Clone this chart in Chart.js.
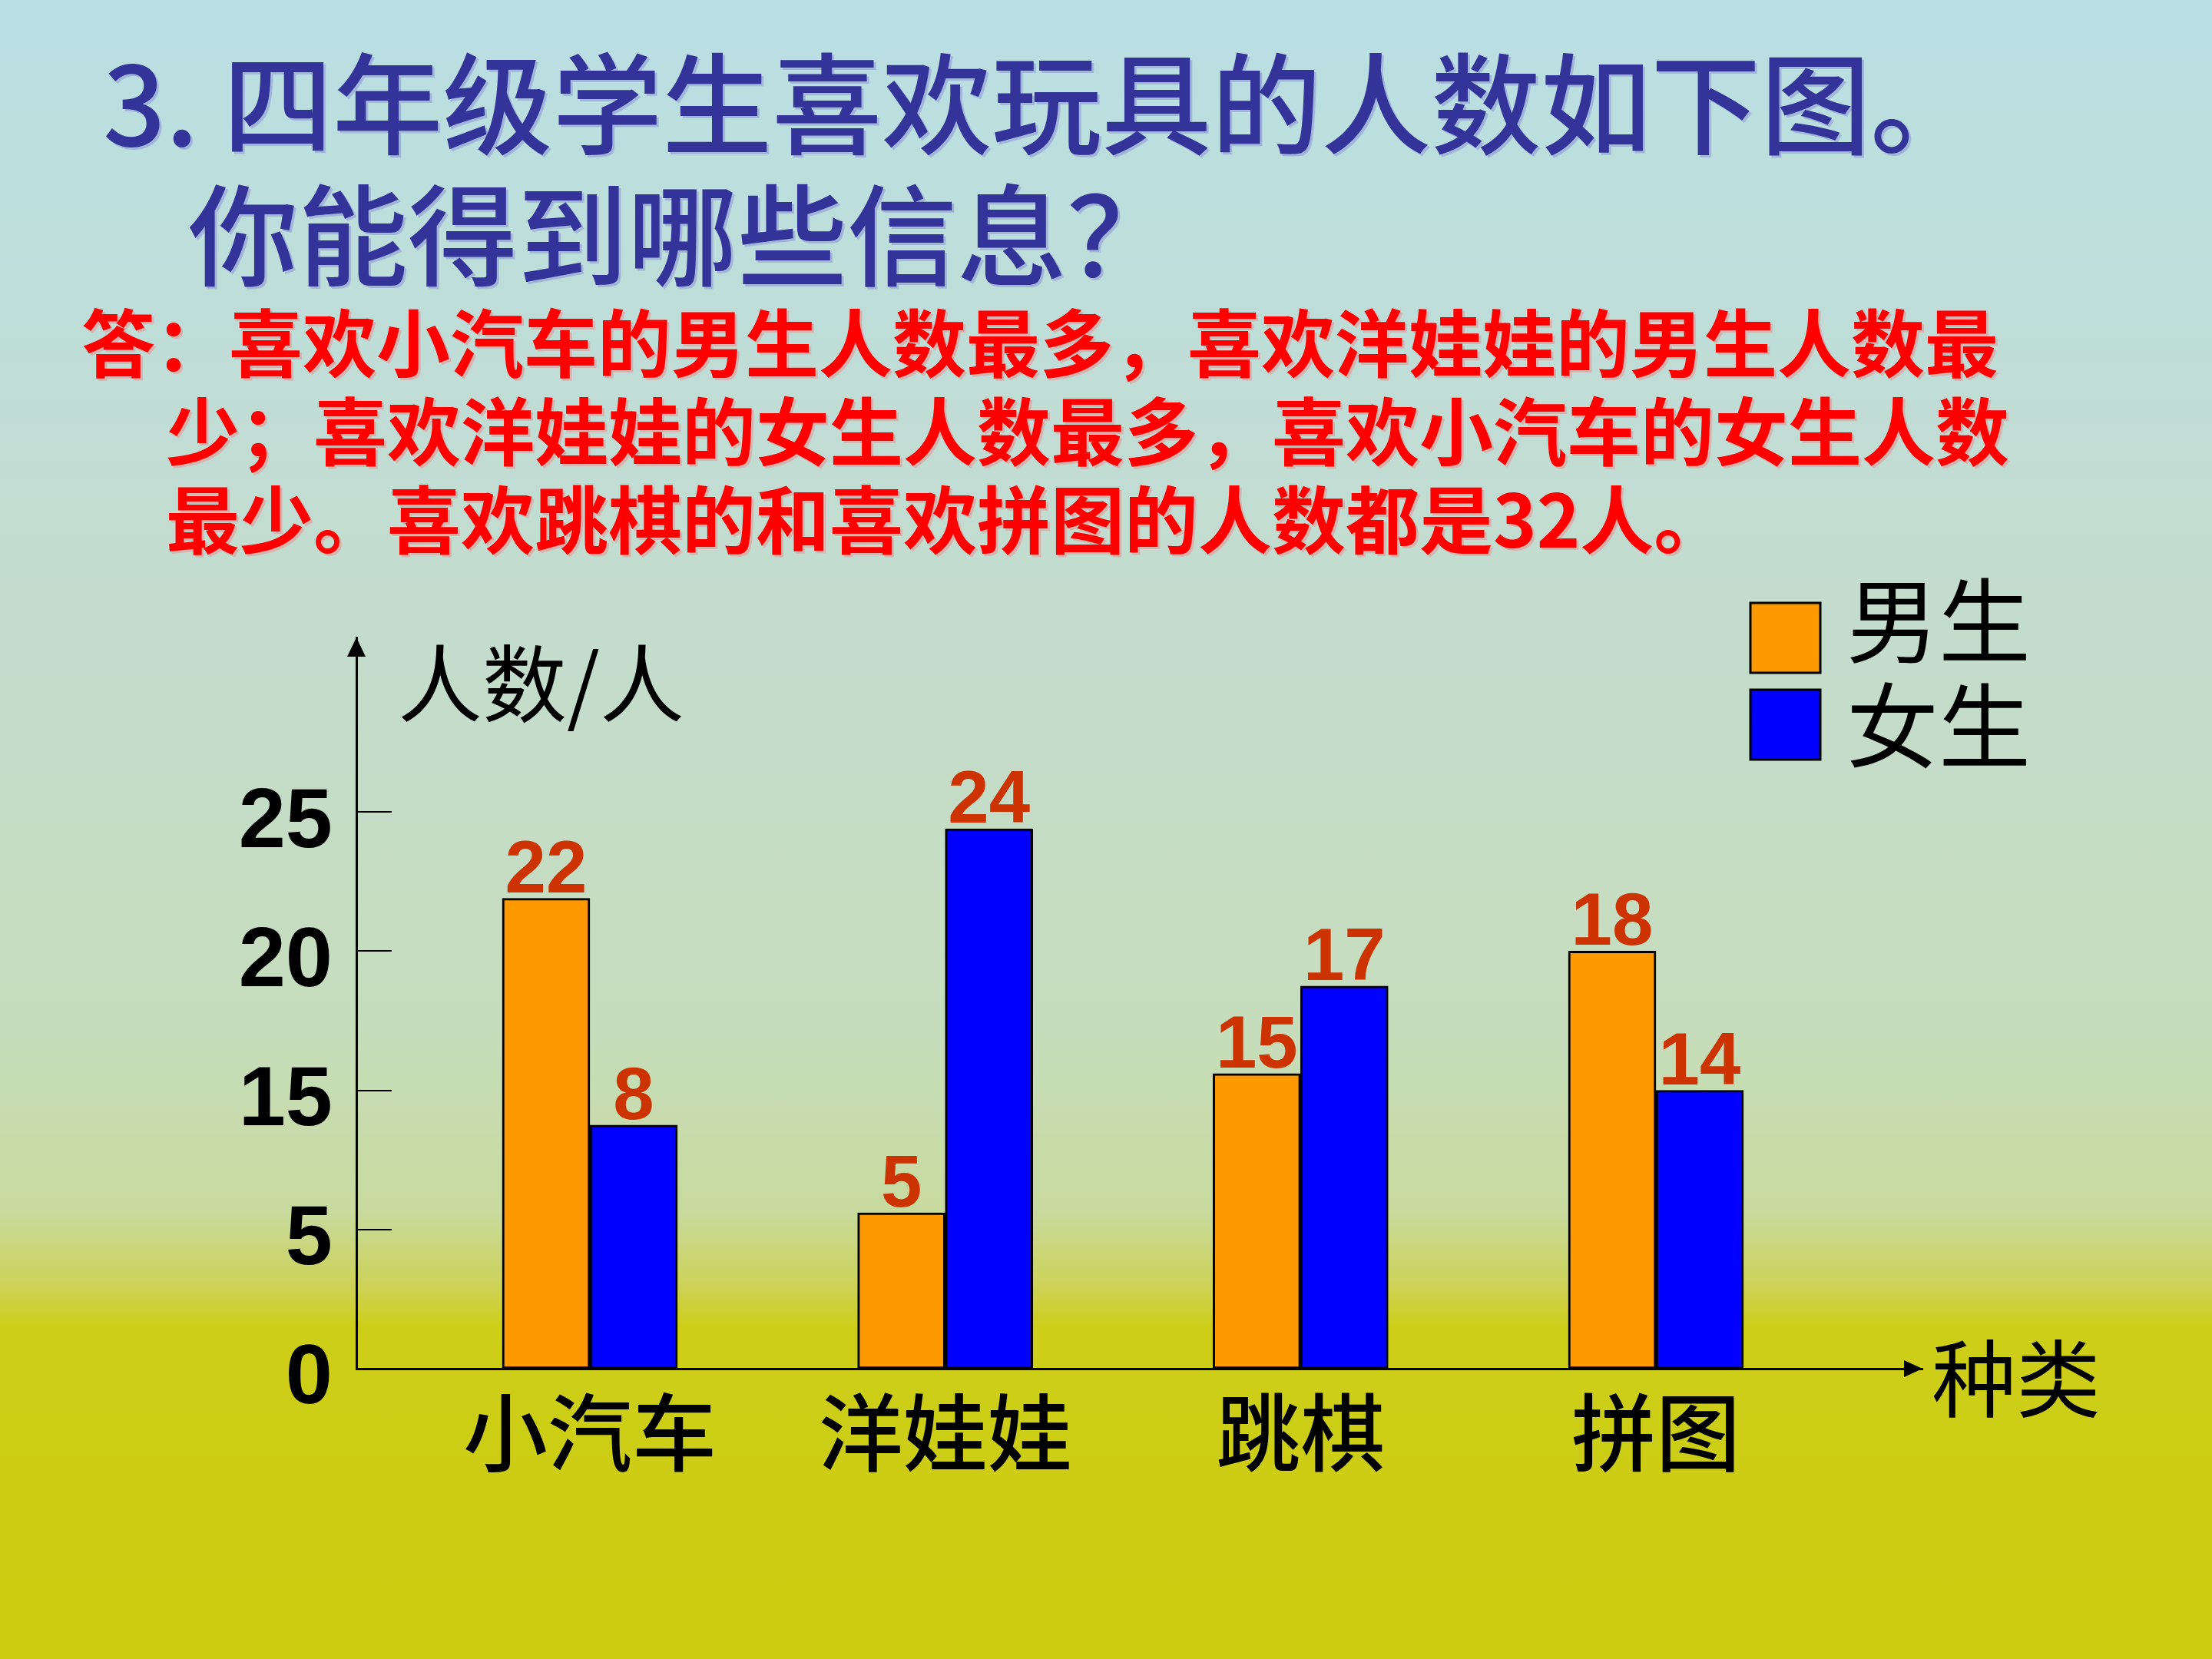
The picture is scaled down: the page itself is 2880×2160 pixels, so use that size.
<!DOCTYPE html>
<html lang="zh-CN">
<head>
<meta charset="utf-8">
<title>四年级学生喜欢玩具的人数</title>
<script src="https://cdn.jsdelivr.net/npm/chart.js@4.4.1/dist/chart.umd.min.js"></script>
<style>
  html, body { margin: 0; padding: 0; }
  body {
    width: 2880px; height: 2160px; position: relative; overflow: hidden;
    background: linear-gradient(to bottom, #b9dfe3 0%, #c3dccf 35%, #c6ddbc 62%, #c8da9e 73%, #cdd257 77.5%, #cdce18 80%, #cccc10 100%);
    font-family: "Noto Sans CJK SC", sans-serif;
  }
  .title {
    position: absolute; color: #333399; font-size: 143px; line-height: 171px; font-weight: 500;
    white-space: nowrap; text-shadow: 3px 3px 0 rgba(140, 150, 215, 0.55);
  }
  .answer {
    position: absolute; color: #ff0000; font-size: 96px; line-height: 115px; font-weight: 700;
    white-space: nowrap; text-shadow: 3px 3px 0 rgba(235, 140, 140, 0.5);
  }
  canvas { position: absolute; left: 0; top: 0; }
</style>
</head>
<body>
<div class="title" style="left:134px; top:42px">3. 四年级学生喜欢玩具的人数如下图。</div>
<div class="title" style="left:245px; top:213px">你能得到哪些信息？</div>
<div class="answer" style="left:106px; top:384px">答：喜欢小汽车的男生人数最多，喜欢洋娃娃的男生人数最</div>
<div class="answer" style="left:216px; top:499px">少；喜欢洋娃娃的女生人数最多，喜欢小汽车的女生人数</div>
<div class="answer" style="left:216px; top:614px">最少。喜欢跳棋的和喜欢拼图的人数都是32人。</div>
<canvas id="chart" width="2880" height="2160"></canvas>
<script>
// categories and series
const categories = ['小汽车', '洋娃娃', '跳棋', '拼图'];
const seriesNames = ['男生', '女生'];

// numbers printed above the bars
const boysCount = [22, 5, 15, 18];
const girlsCount = [8, 24, 17, 14];

// bar heights as drawn against the axis (the bars don't follow their printed numbers exactly)
const boysBar = [16.9, 5.6, 10.6, 15.0];
const girlsBar = [8.75, 19.4, 13.75, 10.0];

// the axis is evenly spaced but labelled 0, 5, 15, 20, 25
const tickValues = [0, 5, 10, 15, 20];
const tickLabels = ['0', '5', '15', '20', '25'];

const axisNames = { y: '人数/人', x: '种类' };

// inner tick marks, arrowheads and axis names
const axisDecor = {
  id: 'axisDecor',
  afterDraw(chart, args, opts) {
    const ctx = chart.ctx, a = chart.chartArea, y = chart.scales.y;
    ctx.save();
    ctx.fillStyle = '#000';
    ctx.strokeStyle = '#000';
    ctx.lineWidth = 2;
    y.ticks.forEach(t => {
      if (t.value === 0) return;
      const py = Math.round(y.getPixelForValue(t.value));
      ctx.beginPath();
      ctx.moveTo(a.left, py);
      ctx.lineTo(a.left + opts.tickLen, py);
      ctx.stroke();
    });
    // arrow on y axis
    ctx.beginPath();
    ctx.moveTo(a.left, a.top);
    ctx.lineTo(a.left - 12, a.top + 25);
    ctx.lineTo(a.left + 12, a.top + 25);
    ctx.closePath();
    ctx.fill();
    // arrow on x axis
    ctx.beginPath();
    ctx.moveTo(a.right, a.bottom);
    ctx.lineTo(a.right - 24, a.bottom - 11);
    ctx.lineTo(a.right - 24, a.bottom + 11);
    ctx.closePath();
    ctx.fill();
    ctx.font = '400 110px "Noto Sans CJK SC"';
    ctx.textBaseline = 'middle';
    ctx.textAlign = 'left';
    ctx.fillText(opts.yName, a.left + 54, a.top + 60);
    ctx.fillText(opts.xName, a.right + 12, a.bottom + 13);
    ctx.restore();
  }
};

// numbers above the bars
const barValues = {
  id: 'barValues',
  afterDatasetsDraw(chart) {
    const ctx = chart.ctx;
    ctx.save();
    ctx.font = 'bold 96px "Liberation Sans", Arial, sans-serif';
    ctx.fillStyle = '#cc3300';
    ctx.textAlign = 'center';
    ctx.textBaseline = 'alphabetic';
    chart.data.datasets.forEach((ds, di) => {
      chart.getDatasetMeta(di).data.forEach((bar, i) => {
        ctx.fillText(String(ds.shown[i]), bar.x, bar.y - 8);
      });
    });
    ctx.restore();
  }
};

// legend stacked in the top right
const sideLegend = {
  id: 'sideLegend',
  afterDraw(chart, args, opts) {
    const ctx = chart.ctx;
    ctx.save();
    ctx.font = '400 120px "Noto Sans CJK SC"';
    ctx.textBaseline = 'middle';
    ctx.textAlign = 'left';
    chart.data.datasets.forEach((ds, i) => {
      const top = opts.top + i * opts.rowGap;
      ctx.fillStyle = ds.backgroundColor;
      ctx.fillRect(opts.left, top, opts.box, opts.box);
      ctx.lineWidth = 3;
      ctx.strokeStyle = '#000';
      ctx.strokeRect(opts.left, top, opts.box, opts.box);
      ctx.fillStyle = '#000';
      ctx.fillText(ds.label, opts.left + opts.box + 34, opts.textTop + i * opts.textGap);
    });
    ctx.restore();
  }
};

new Chart(document.getElementById('chart'), {
  type: 'bar',
  data: {
    datasets: [
      {
        label: seriesNames[0],
        data: boysBar.map((v, i) => ({ x: i, y: v })),
        shown: boysCount,
        backgroundColor: '#ff9900'
      },
      {
        label: seriesNames[1],
        data: girlsBar.map((v, i) => ({ x: i, y: v })),
        shown: girlsCount,
        backgroundColor: '#0000ff'
      }
    ]
  },
  options: {
    responsive: false,
    animation: false,
    devicePixelRatio: 1,
    layout: { padding: { top: 830, right: 377, left: 0, bottom: 0 } },
    datasets: {
      bar: { barThickness: 114, borderWidth: 3, borderColor: '#000', borderSkipped: false }
    },
    plugins: {
      legend: { display: false },
      tooltip: { enabled: false },
      axisDecor: { tickLen: 46, yName: axisNames.y, xName: axisNames.x },
      sideLegend: { left: 2279, top: 785, box: 91, rowGap: 113, textTop: 808, textGap: 137 }
    },
    scales: {
      x: {
        type: 'linear',
        min: -0.657,
        max: 3.75,
        offset: false,
        grid: { display: false, drawTicks: false, offset: false },
        border: { display: true, color: '#000', width: 3 },
        afterBuildTicks: s => { s.ticks = categories.map((c, i) => ({ value: i })); },
        afterFit: s => { s.height = 378; },
        ticks: {
          callback: (v, i) => categories[i],
          font: { family: '"Noto Sans CJK SC"', size: 110, weight: '500' },
          color: '#000',
          padding: 17,
          maxRotation: 0,
          autoSkip: false
        }
      },
      y: {
        min: 0,
        max: 26.27,
        grid: { display: false, drawTicks: false },
        border: { display: true, color: '#000', width: 3 },
        afterBuildTicks: s => { s.ticks = tickValues.map(v => ({ value: v })); },
        afterFit: s => { s.width = 464; },
        ticks: {
          callback: (v, i) => tickLabels[i],
          font: { family: '"Liberation Sans", Arial, sans-serif', size: 110, weight: 'bold' },
          color: '#000',
          padding: 31,
          labelOffset: 15,
          autoSkip: false
        }
      }
    }
  },
  plugins: [axisDecor, barValues, sideLegend]
});
</script>
</body>
</html>
